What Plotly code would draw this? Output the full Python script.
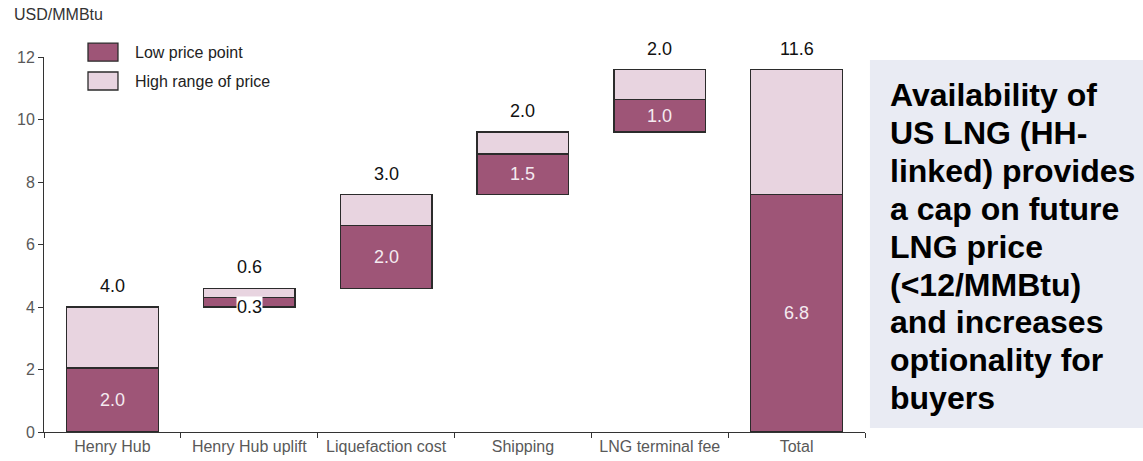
import plotly.graph_objects as go

categories = ["Henry Hub", "Henry Hub uplift", "Liquefaction cost", "Shipping", "LNG terminal fee", "Total"]
base_values = [0.0, 4.0, 4.6, 7.6, 9.6, 0.0]
low_values = [2.05, 0.3, 2.0, 1.3, 1.05, 7.6]
high_values = [1.95, 0.3, 1.0, 0.7, 0.95, 4.0]
low_labels = ["2.0", "0.3", "2.0", "1.5", "1.0", "6.8"]
top_labels = ["4.0", "0.6", "3.0", "2.0", "2.0", "11.6"]
y_ticks = [0, 2, 4, 6, 8, 10, 12]
series_names = ["Low price point", "High range of price"]
box_lines = ["Availability of", "US LNG (HH-", "linked) provides", "a cap on future", "LNG price",
             "(<12/MMBtu)", "and increases", "optionality for", "buyers"]

DARK = "#9E5577"
LIGHT = "#E8D4E0"
EDGE = "#2b2b2b"
FONT = "Liberation Sans, Arial, sans-serif"

fig = go.Figure()
fig.add_trace(go.Bar(x=categories, y=base_values, marker=dict(color="rgba(0,0,0,0)", line=dict(width=0)),
                     showlegend=False, hoverinfo="skip"))
fig.add_trace(go.Bar(x=categories, y=low_values, name=series_names[0], showlegend=False,
                     marker=dict(color=DARK, line=dict(color=EDGE, width=1.3))))
fig.add_trace(go.Bar(x=categories, y=high_values, name=series_names[1], showlegend=False,
                     marker=dict(color=LIGHT, line=dict(color=EDGE, width=1.3))))

annotations = []
for c, b, lo, hi, ll, tl in zip(categories, base_values, low_values, high_values, low_labels, top_labels):
    top = b + lo + hi
    annotations.append(dict(x=c, y=top, text=tl, showarrow=False, yanchor="middle", yshift=21,
                            font=dict(size=18, color="#111", family=FONT)))
    if lo < 0.5:
        annotations.append(dict(x=c, y=b, text=ll, showarrow=False, yanchor="middle",
                                bgcolor="white", borderpad=0,
                                font=dict(size=18, color="#111", family=FONT)))
    else:
        annotations.append(dict(x=c, y=b + lo / 2, text=ll, showarrow=False, yanchor="middle",
                                font=dict(size=18, color="#f4eaf0", family=FONT)))

# y-axis unit
annotations.append(dict(xref="paper", yref="paper", x=-0.039, y=1.112, xanchor="left", yanchor="middle",
                        text="USD/MMBtu", showarrow=False, font=dict(size=16, color="#333", family=FONT)))

# manual legend
shapes = []
legend_rows = [(1.037, 0.989, DARK), (0.960, 0.912, LIGHT)]
for name, (y1, y0, col) in zip(series_names, legend_rows):
    shapes.append(dict(type="rect", xref="paper", yref="paper", x0=0.0536, x1=0.0901, y0=y0, y1=y1,
                       fillcolor=col, line=dict(color=EDGE, width=1.3)))
    annotations.append(dict(xref="paper", yref="paper", x=0.1084, y=(y0 + y1) / 2, xanchor="left",
                            yanchor="middle", text=name, showarrow=False,
                            font=dict(size=16, color="#222", family=FONT)))

# text box
shapes.append(dict(type="rect", xref="paper", yref="paper", x0=1.006, x1=1.34, y0=0.0107, y1=0.992,
                   fillcolor="#E9EBF3", line=dict(width=0), layer="below"))
for i, line in enumerate(box_lines):
    ypix = 95 + 37.9 * i
    annotations.append(dict(xref="paper", yref="paper", x=1.028, y=(432 - ypix) / 375, xanchor="left",
                            yanchor="middle", text="<b>" + line + "</b>", showarrow=False,
                            font=dict(size=32, color="#000", family=FONT)))

fig.update_layout(
    barmode="stack",
    bargap=0.33,
    width=1143, height=461,
    margin=dict(l=44, r=278, t=57, b=29, autoexpand=False),
    plot_bgcolor="white", paper_bgcolor="white",
    font=dict(family=FONT, color="#595959", size=16),
    annotations=annotations,
    shapes=shapes,
    showlegend=False,
    yaxis=dict(range=[0, 12], tickvals=y_ticks, showline=True, linecolor="#333", linewidth=1,
               ticks="outside", ticklen=5, tickcolor="#333", showgrid=False, zeroline=False,
               automargin=False, tickfont=dict(size=16, color="#595959")),
    xaxis=dict(showline=True, linecolor="#333", linewidth=1, ticks="outside", ticklen=5,
               tickcolor="#333", tickson="boundaries", showgrid=False, automargin=False,
               tickfont=dict(size=16, color="#595959")),
)

fig.write_html("out.html")
